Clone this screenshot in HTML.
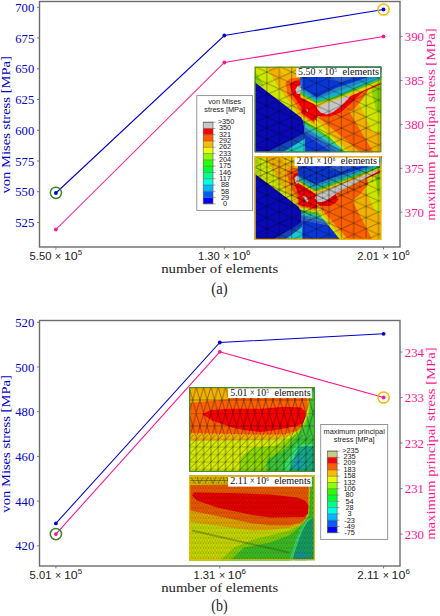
<!DOCTYPE html><html><head><meta charset="utf-8"><style>html,body{margin:0;padding:0;background:#fff;width:440px;height:616px;overflow:hidden}svg{display:block}text{font-family:"Liberation Serif",serif}.s{font-family:"Liberation Sans",sans-serif}</style></head><body>
<svg width="440" height="616" viewBox="0 0 440 616">
<defs>
<pattern id="m1" width="24.8" height="11.2" patternUnits="userSpaceOnUse"><path d="M0 0V11.2M12.4 0V11.2M24.8 0V11.2M0 0L12.4 5.6L24.8 0M0 11.2L12.4 5.6L24.8 11.2M0 0L-12.4 5.6M24.8 11.2L37.2 5.6" fill="none" stroke="#000" stroke-width="0.8" stroke-opacity="0.42"/></pattern>
<pattern id="m2" width="12.4" height="5.6" patternUnits="userSpaceOnUse"><path d="M0 0V5.6M6.2 0V5.6M12.4 0V5.6M0 0L6.2 2.8L12.4 0M0 5.6L6.2 2.8L12.4 5.6M0 0L-6.2 2.8M12.4 5.6L18.6 2.8" fill="none" stroke="#000" stroke-width="0.5" stroke-opacity="0.38"/></pattern>
<pattern id="m3" width="7.3" height="7.5" patternUnits="userSpaceOnUse"><path d="M0 0V7.5M7.3 0V7.5M0 7.5L7.3 0" fill="none" stroke="#000" stroke-width="0.7" stroke-opacity="0.55"/><path d="M0 0H7.3M0 7.5H7.3" fill="none" stroke="#000" stroke-width="0.7" stroke-opacity="0.3"/></pattern>
<pattern id="m3a" width="7.3" height="26" patternUnits="userSpaceOnUse"><path d="M0 0L3.65 13.0L7.3 0M0 26L3.65 13.0L7.3 26" fill="none" stroke="#000" stroke-width="0.7" stroke-opacity="0.55"/><path d="M0 0H7.3M0 13.0H7.3" fill="none" stroke="#000" stroke-width="0.7" stroke-opacity="0.45"/></pattern>
<pattern id="m4" width="2.6" height="5" patternUnits="userSpaceOnUse"><path d="M0 0L1.3 2.5L2.6 0M0 5L1.3 2.5L2.6 5" fill="none" stroke="#000" stroke-width="0.42" stroke-opacity="0.4"/><path d="M0 0H2.6M0 2.5H2.6" fill="none" stroke="#000" stroke-width="0.42" stroke-opacity="0.22"/></pattern>
</defs>
<rect x="39.5" y="1.5" width="360.5" height="245.5" fill="none" stroke="#6c6c6c" stroke-width="1.4"/>
<line x1="37.0" y1="7.3" x2="39.5" y2="7.3" stroke="#6c6c6c" stroke-width="0.9"/>
<text x="34.2" y="11.8" text-anchor="end" font-size="11.6" fill="#0000cd" textLength="18.9" lengthAdjust="spacingAndGlyphs">700</text>
<line x1="37.0" y1="38.0" x2="39.5" y2="38.0" stroke="#6c6c6c" stroke-width="0.9"/>
<text x="34.2" y="42.5" text-anchor="end" font-size="11.6" fill="#0000cd" textLength="18.9" lengthAdjust="spacingAndGlyphs">675</text>
<line x1="37.0" y1="68.8" x2="39.5" y2="68.8" stroke="#6c6c6c" stroke-width="0.9"/>
<text x="34.2" y="73.3" text-anchor="end" font-size="11.6" fill="#0000cd" textLength="18.9" lengthAdjust="spacingAndGlyphs">650</text>
<line x1="37.0" y1="99.5" x2="39.5" y2="99.5" stroke="#6c6c6c" stroke-width="0.9"/>
<text x="34.2" y="104.0" text-anchor="end" font-size="11.6" fill="#0000cd" textLength="18.9" lengthAdjust="spacingAndGlyphs">625</text>
<line x1="37.0" y1="130.3" x2="39.5" y2="130.3" stroke="#6c6c6c" stroke-width="0.9"/>
<text x="34.2" y="134.8" text-anchor="end" font-size="11.6" fill="#0000cd" textLength="18.9" lengthAdjust="spacingAndGlyphs">600</text>
<line x1="37.0" y1="161.0" x2="39.5" y2="161.0" stroke="#6c6c6c" stroke-width="0.9"/>
<text x="34.2" y="165.5" text-anchor="end" font-size="11.6" fill="#0000cd" textLength="18.9" lengthAdjust="spacingAndGlyphs">575</text>
<line x1="37.0" y1="191.7" x2="39.5" y2="191.7" stroke="#6c6c6c" stroke-width="0.9"/>
<text x="34.2" y="196.2" text-anchor="end" font-size="11.6" fill="#0000cd" textLength="18.9" lengthAdjust="spacingAndGlyphs">550</text>
<line x1="37.0" y1="222.5" x2="39.5" y2="222.5" stroke="#6c6c6c" stroke-width="0.9"/>
<text x="34.2" y="227.0" text-anchor="end" font-size="11.6" fill="#0000cd" textLength="18.9" lengthAdjust="spacingAndGlyphs">525</text>
<line x1="400" y1="36.4" x2="402.5" y2="36.4" stroke="#6c6c6c" stroke-width="0.9"/>
<text x="404.8" y="40.9" font-size="11.6" fill="#ff1493" textLength="19.2" lengthAdjust="spacingAndGlyphs">390</text>
<line x1="400" y1="80.4" x2="402.5" y2="80.4" stroke="#6c6c6c" stroke-width="0.9"/>
<text x="404.8" y="84.9" font-size="11.6" fill="#ff1493" textLength="19.2" lengthAdjust="spacingAndGlyphs">385</text>
<line x1="400" y1="124.4" x2="402.5" y2="124.4" stroke="#6c6c6c" stroke-width="0.9"/>
<text x="404.8" y="128.9" font-size="11.6" fill="#ff1493" textLength="19.2" lengthAdjust="spacingAndGlyphs">380</text>
<line x1="400" y1="168.3" x2="402.5" y2="168.3" stroke="#6c6c6c" stroke-width="0.9"/>
<text x="404.8" y="172.8" font-size="11.6" fill="#ff1493" textLength="19.2" lengthAdjust="spacingAndGlyphs">375</text>
<line x1="400" y1="212.2" x2="402.5" y2="212.2" stroke="#6c6c6c" stroke-width="0.9"/>
<text x="404.8" y="216.7" font-size="11.6" fill="#ff1493" textLength="19.2" lengthAdjust="spacingAndGlyphs">370</text>
<line x1="55.9" y1="247" x2="55.9" y2="249.5" stroke="#6c6c6c" stroke-width="0.9"/>
<line x1="224.3" y1="247" x2="224.3" y2="249.5" stroke="#6c6c6c" stroke-width="0.9"/>
<line x1="383.5" y1="247" x2="383.5" y2="249.5" stroke="#6c6c6c" stroke-width="0.9"/>
<text class="s" x="29.6" y="259.7" font-size="10.4" fill="#222" textLength="21.8" lengthAdjust="spacingAndGlyphs">5.50</text>
<text class="s" x="55.1" y="259.7" font-size="10.4" fill="#222" textLength="6.2" lengthAdjust="spacingAndGlyphs">×</text>
<text class="s" x="63.9" y="259.7" font-size="10.4" fill="#222" textLength="13.8" lengthAdjust="spacingAndGlyphs">10</text>
<text class="s" x="77.7" y="254.7" font-size="7.8" fill="#222" textLength="4.4" lengthAdjust="spacingAndGlyphs">5</text>
<text class="s" x="198.0" y="259.7" font-size="10.4" fill="#222" textLength="21.8" lengthAdjust="spacingAndGlyphs">1.30</text>
<text class="s" x="223.5" y="259.7" font-size="10.4" fill="#222" textLength="6.2" lengthAdjust="spacingAndGlyphs">×</text>
<text class="s" x="232.3" y="259.7" font-size="10.4" fill="#222" textLength="13.8" lengthAdjust="spacingAndGlyphs">10</text>
<text class="s" x="246.1" y="254.7" font-size="7.8" fill="#222" textLength="4.4" lengthAdjust="spacingAndGlyphs">6</text>
<text class="s" x="357.2" y="259.7" font-size="10.4" fill="#222" textLength="21.8" lengthAdjust="spacingAndGlyphs">2.01</text>
<text class="s" x="382.7" y="259.7" font-size="10.4" fill="#222" textLength="6.2" lengthAdjust="spacingAndGlyphs">×</text>
<text class="s" x="391.5" y="259.7" font-size="10.4" fill="#222" textLength="13.8" lengthAdjust="spacingAndGlyphs">10</text>
<text class="s" x="405.3" y="254.7" font-size="7.8" fill="#222" textLength="4.4" lengthAdjust="spacingAndGlyphs">6</text>
<text transform="translate(10.1 124.8) rotate(-90)" text-anchor="middle" font-size="12.6" fill="#0000cd" textLength="137.5" lengthAdjust="spacingAndGlyphs">von Mises stress [MPa]</text>
<text transform="translate(435.0 124.5) rotate(-90)" text-anchor="middle" font-size="12.6" fill="#ff1493" textLength="192.5" lengthAdjust="spacingAndGlyphs">maximum principal stress [MPa]</text>
<text x="219.7" y="272.6" text-anchor="middle" font-size="12.3" fill="#222" textLength="117" lengthAdjust="spacingAndGlyphs">number of elements</text>
<text x="219.5" y="293.8" text-anchor="middle" font-size="17" fill="#222" textLength="16.3" lengthAdjust="spacingAndGlyphs">(a)</text>
<polyline points="55.9,193 224.3,35.5 383.5,9.5" fill="none" stroke="#0000cd" stroke-width="1.05"/>
<circle cx="55.9" cy="193" r="1.9" fill="#0000cd"/>
<circle cx="224.3" cy="35.5" r="1.9" fill="#0000cd"/>
<circle cx="383.5" cy="9.5" r="1.9" fill="#0000cd"/>
<polyline points="55.9,229.5 224.3,62.5 383.5,36.4" fill="none" stroke="#ff1493" stroke-width="1.05"/>
<circle cx="55.9" cy="229.5" r="1.9" fill="#ff1493"/>
<circle cx="224.3" cy="62.5" r="1.9" fill="#ff1493"/>
<circle cx="383.5" cy="36.4" r="1.9" fill="#ff1493"/>
<circle cx="55.9" cy="192.8" r="5.6" fill="none" stroke="#3f7f2a" stroke-width="1.5"/>
<circle cx="383.5" cy="9.5" r="5.6" fill="none" stroke="#f5bb00" stroke-width="1.5"/>
<rect x="196.8" y="95.6" width="55.79999999999998" height="114.80000000000001" fill="#fff" stroke="#8a8a8a" stroke-width="0.9"/>
<text class="s" x="224.7" y="104.1" text-anchor="middle" font-size="7.35" fill="#1a1a1a">von Mises</text>
<text class="s" x="224.7" y="112.3" text-anchor="middle" font-size="7.35" fill="#1a1a1a">stress [MPa]</text>
<rect x="203.2" y="122.20" width="9.8" height="6.28" fill="#c8c8c8"/>
<rect x="203.2" y="128.48" width="9.8" height="6.28" fill="#ff0000"/>
<rect x="203.2" y="134.76" width="9.8" height="6.28" fill="#ff5d00"/>
<rect x="203.2" y="141.04" width="9.8" height="6.28" fill="#ffb900"/>
<rect x="203.2" y="147.32" width="9.8" height="6.28" fill="#e8ff00"/>
<rect x="203.2" y="153.60" width="9.8" height="6.28" fill="#8bff00"/>
<rect x="203.2" y="159.88" width="9.8" height="6.28" fill="#2eff00"/>
<rect x="203.2" y="166.16" width="9.8" height="6.28" fill="#00ff2e"/>
<rect x="203.2" y="172.44" width="9.8" height="6.28" fill="#00ff8b"/>
<rect x="203.2" y="178.72" width="9.8" height="6.28" fill="#00ffe8"/>
<rect x="203.2" y="185.00" width="9.8" height="6.28" fill="#00b9ff"/>
<rect x="203.2" y="191.28" width="9.8" height="6.28" fill="#005dff"/>
<rect x="203.2" y="197.56" width="9.8" height="6.28" fill="#0000ff"/>
<rect x="203.2" y="122.2" width="9.8" height="81.64" fill="none" stroke="#555" stroke-width="0.6"/>
<line x1="203.2" y1="122.20" x2="215.5" y2="122.20" stroke="#555" stroke-width="0.5"/>
<text class="s" x="226.0" y="124.05" text-anchor="middle" font-size="7.35" fill="#1a1a1a">&gt;350</text>
<line x1="203.2" y1="128.48" x2="215.5" y2="128.48" stroke="#555" stroke-width="0.5"/>
<text class="s" x="225.1" y="130.38" text-anchor="middle" font-size="7.35" fill="#1a1a1a">350</text>
<line x1="203.2" y1="134.76" x2="215.5" y2="134.76" stroke="#555" stroke-width="0.5"/>
<text class="s" x="225.1" y="136.70" text-anchor="middle" font-size="7.35" fill="#1a1a1a">321</text>
<line x1="203.2" y1="141.04" x2="215.5" y2="141.04" stroke="#555" stroke-width="0.5"/>
<text class="s" x="225.1" y="143.03" text-anchor="middle" font-size="7.35" fill="#1a1a1a">292</text>
<line x1="203.2" y1="147.32" x2="215.5" y2="147.32" stroke="#555" stroke-width="0.5"/>
<text class="s" x="225.1" y="149.36" text-anchor="middle" font-size="7.35" fill="#1a1a1a">262</text>
<line x1="203.2" y1="153.60" x2="215.5" y2="153.60" stroke="#555" stroke-width="0.5"/>
<text class="s" x="225.1" y="155.68" text-anchor="middle" font-size="7.35" fill="#1a1a1a">233</text>
<line x1="203.2" y1="159.88" x2="215.5" y2="159.88" stroke="#555" stroke-width="0.5"/>
<text class="s" x="225.1" y="162.01" text-anchor="middle" font-size="7.35" fill="#1a1a1a">204</text>
<line x1="203.2" y1="166.16" x2="215.5" y2="166.16" stroke="#555" stroke-width="0.5"/>
<text class="s" x="225.1" y="168.34" text-anchor="middle" font-size="7.35" fill="#1a1a1a">175</text>
<line x1="203.2" y1="172.44" x2="215.5" y2="172.44" stroke="#555" stroke-width="0.5"/>
<text class="s" x="225.1" y="174.67" text-anchor="middle" font-size="7.35" fill="#1a1a1a">146</text>
<line x1="203.2" y1="178.72" x2="215.5" y2="178.72" stroke="#555" stroke-width="0.5"/>
<text class="s" x="225.1" y="180.99" text-anchor="middle" font-size="7.35" fill="#1a1a1a">117</text>
<line x1="203.2" y1="185.00" x2="215.5" y2="185.00" stroke="#555" stroke-width="0.5"/>
<text class="s" x="225.1" y="187.32" text-anchor="middle" font-size="7.35" fill="#1a1a1a">88</text>
<line x1="203.2" y1="191.28" x2="215.5" y2="191.28" stroke="#555" stroke-width="0.5"/>
<text class="s" x="225.1" y="193.65" text-anchor="middle" font-size="7.35" fill="#1a1a1a">58</text>
<line x1="203.2" y1="197.56" x2="215.5" y2="197.56" stroke="#555" stroke-width="0.5"/>
<text class="s" x="225.1" y="199.97" text-anchor="middle" font-size="7.35" fill="#1a1a1a">29</text>
<line x1="203.2" y1="203.84" x2="215.5" y2="203.84" stroke="#555" stroke-width="0.5"/>
<text class="s" x="225.1" y="206.30" text-anchor="middle" font-size="7.35" fill="#1a1a1a">0</text>
<svg x="254.5" y="66.5" width="127" height="86" viewBox="0 0 127 86" overflow="hidden">
<rect width="127" height="86" fill="#f2b000"/>
<polygon points="0,0 12,0 20,14 29,28 37,38 45,50 48,56 0,20" fill="#d0e600"/>
<polygon points="0,5 3,8 10,20 0,17" fill="#8ad400"/>
<polygon points="22,0 42,0 42,6 30,8" fill="#eec400"/>
<polygon points="31,16 36,12 44,11 48,14 52,28 60,38 68,48 68,58 58,60 48,48 40,36 33,28" fill="#fa6000"/>
<polygon points="35,18 40,14.5 46,14 48,18 52,28 60,38 66,47 65,56 59,57 51,47 44,37 38,28" fill="#f80000"/>
<polygon points="62.44,56.89 62.00,56.00 62.00,44.00 56.00,36.00 47.00,40.00 47.00,46.85" fill="#f80000"/><polygon points="47.00,46.85 47.00,48.35 63.56,59.11 62.44,56.89" fill="#fa6000"/><polygon points="47.00,48.35 47.00,49.85 66.88,62.77 64.00,60.00 63.56,59.11" fill="#f2b000"/><polygon points="47.00,49.85 47.00,50.00 48.06,53.04 74.86,70.46 66.88,62.77" fill="#d0e600"/><polygon points="48.06,53.04 48.60,54.60 49.02,56.66 84.45,79.69 74.86,70.46" fill="#44c428"/><polygon points="49.02,56.66 49.70,60.00 49.70,60.11 89.54,86.00 91.00,86.00 84.45,79.69" fill="#1cc8cc"/><polygon points="49.70,60.11 49.80,63.17 84.92,86.00 89.54,86.00" fill="#1a8cc0"/><polygon points="49.80,63.17 49.92,67.25 78.77,86.00 84.92,86.00" fill="#1e5ee0"/><polygon points="49.92,67.25 50.50,86.00 78.77,86.00" fill="#0a36d4"/>
<polygon points="0,15.5 46.5,51 48.6,54.6 49.5,60 49.8,86 0,86" fill="#0808b4"/>
<polygon points="48.6,54.6 49.5,60 49.8,86 50.8,86 50.5,60 49.6,54.6" fill="#3a7ae0"/>
<polygon points="12,86 50.5,66 50.5,72 28,86" fill="#1446b8"/>
<polygon points="28,86 50.5,72 50.5,86" fill="#1cc8cc"/>
<polygon points="62,50 70,48 127,48 127,86 95,86 62,55" fill="#f2b000"/>
<polygon points="60,53 64,56 95,86 91,86 64,60 60,57" fill="#d0e600"/>
<polygon points="64,50.7 70,44 93,42 119,86 106,86" fill="#fa6000"/>
<polygon points="98,24 114,15 127,10 127,64 118,66 108,44" fill="#d0e600"/>
<polygon points="116,16 127,11 127,48 122,44 118,30" fill="#8ad400"/>
<polygon points="46,30 62,42 81.5,36 127,16 127,17.5 108,26 98,36 86,46 76,50 66,50 56,46 48,36" fill="#f80000"/>
<polygon points="100,33 108,26 114,23 108,33 100,42 92,47 88,47" fill="#fa6000"/>
<polygon points="46,0 127,0 127,15 81.5,33.5 62,39 46,31" fill="#f0c800"/>
<polygon points="46,0 127,0 127,13.5 81.5,32 62,37 46,28" fill="#44c428"/>
<polygon points="46,0 127,0 127,11.5 81.5,29.5 62,35 46,25" fill="#18b0c8"/>
<polygon points="46,0 127,0 127,9 81.5,25.5 62,33 46,22.5" fill="#2088c0"/>
<polygon points="46,0 127,0 127,6 81.5,21.5 62,31 46,20" fill="#0a36d4"/>
<polygon points="72,12 127,0 127,4 86,16" fill="#2a5ad0"/>
<polygon points="46,0 48,0 48,21 46,20" fill="#3060d8"/>
<polygon points="62.5,42 68,38 80,34 96,28.5 94,32 86,40 78,46 72,48 66,46" fill="#c6c6c6"/>
<polygon points="41,23 43,19.5 46,19 47,24 45,27.6 42,27" fill="#c6c6c6"/>
<polygon points="52,42.5 53,42.5 53.3,45 52.3,45" fill="#e8e8f0"/>
<rect x="0" y="0" width="127" height="86" fill="url(#m1)"/>
<rect x="41.8" y="1.2" width="84.2" height="9.3" fill="#fff"/>
<text x="43.50" y="8.70" font-size="9.4" fill="#111" textLength="17.40" lengthAdjust="spacingAndGlyphs">5.50</text>
<text x="63.50" y="8.70" font-size="9.4" fill="#111" textLength="4.70" lengthAdjust="spacingAndGlyphs">×</text>
<text x="69.80" y="8.70" font-size="9.4" fill="#111" textLength="9.90" lengthAdjust="spacingAndGlyphs">10</text>
<text x="79.80" y="5.70" font-size="6.4" fill="#111" textLength="2.60" lengthAdjust="spacingAndGlyphs">5</text>
<text x="88.00" y="8.70" font-size="9.4" fill="#111" textLength="36.50" lengthAdjust="spacingAndGlyphs">elements</text>
<rect x="0.6" y="0.6" width="125.8" height="84.8" fill="none" stroke="#4a8a2a" stroke-width="1.3"/>
</svg>
<svg x="254.5" y="156" width="127" height="84" viewBox="0 0 127 84" overflow="hidden">
<rect width="127" height="84" fill="#f2b000"/>
<polygon points="0,0 10,0 21.5,20 31,34 40,45 46,52 0,22" fill="#d0e600"/>
<polygon points="0,1 3,1 6,10 6,18 0,18" fill="#a8dc00"/>
<polygon points="25,0 42,0 42,8 30,6" fill="#ead000"/>
<polygon points="32,16 37,12 43,12 48,22 56,32 64,40 70,48 66,58 56,56 46,46 40,38 35,28" fill="#fa6000"/>
<polygon points="38,20 42,16 46,20 50,28 56,34 62,40 66,48 62,55 56,52 48,44 43,36 40,28" fill="#f80000"/>
<polygon points="63.00,53.00 64.00,44.00 56.00,34.00 44.00,36.00 44.00,49.20" fill="#f80000"/><polygon points="44.00,49.20 44.00,50.00 44.07,50.21 63.56,54.11 63.00,53.00" fill="#fa6000"/><polygon points="44.07,50.21 44.40,51.28 64.18,55.24 64.00,55.00 63.56,54.11" fill="#f2b000"/><polygon points="44.40,51.28 45.08,53.42 65.97,57.59 64.18,55.24" fill="#d0e600"/><polygon points="45.08,53.42 45.92,56.08 68.20,60.54 65.97,57.59" fill="#44c428"/><polygon points="45.92,56.08 46.76,58.75 70.44,63.49 68.20,60.54" fill="#1cc8cc"/><polygon points="46.76,58.75 47.00,59.50 47.04,61.31 72.67,66.43 70.44,63.49" fill="#1a8cc0"/><polygon points="47.04,61.31 47.09,63.82 74.91,69.38 72.67,66.43" fill="#1e5ee0"/><polygon points="47.09,63.82 47.50,84.00 86.00,84.00 74.91,69.38" fill="#0a36d4"/>
<polygon points="0,17.5 43.6,50.5 46.5,55 47,60 47.2,84 0,84" fill="#0808b4"/>
<polygon points="46.5,55 47,60 47.2,84 48.2,84 48,60 47.5,55" fill="#3a7ae0"/>
<polygon points="18,84 47.5,66 47.5,71 30,84" fill="#1446b8"/>
<polygon points="30,84 47.5,71 47.5,84" fill="#1cc8cc"/>
<polygon points="62,48 80,41 127,41 127,84 88,84 63,53" fill="#f2b000"/>
<polygon points="62,52 64,53 89,84 86,84 62,55" fill="#d0e600"/>
<polygon points="64,48 80,41 96,41 118,84 94,84 66,52" fill="#fa6000"/>
<polygon points="106,20 118,14 127,10 127,60 120,54 112,36" fill="#d0e600"/>
<polygon points="120,14 127,11 127,42 123,38" fill="#8ad400"/>
<polygon points="44,26 58,38 64,40 120,16 127,14 127,16 100,28 90,36 82,46 76,50 66,50 56,44 46,34" fill="#f80000"/>
<polygon points="80,36 100,26 112,21 114,28 104,40 96,46 86,48" fill="#fa6000"/>
<polygon points="43.6,0 127,0 127,12 64,36 60,37 43.6,27" fill="#f0c800"/>
<polygon points="43.6,0 127,0 127,11 64,34.5 60,35 43.6,25" fill="#44c428"/>
<polygon points="43.6,0 127,0 127,9.5 64,32 60,33 43.6,23" fill="#18b0c8"/>
<polygon points="43.6,0 127,0 127,8 64,29.5 60,31 43.6,21" fill="#2088c0"/>
<polygon points="43.6,0 127,0 127,6 64,26.6 60,28 43.6,19" fill="#0a36d4"/>
<polygon points="72,12 127,0 127,4 86,16" fill="#2a5ad0"/>
<polygon points="60.5,42 62,38.5 68,35.5 100,23.5 122,14.5 124,15.2 110,22.5 84,36 74,43 68,46 63,46" fill="#c6c6c6"/>
<polygon points="40,22 42,19.4 44,19.5 44.5,26 42.5,28 40.5,26" fill="#c6c6c6"/>
<polygon points="48,40 50,39.5 54,44 53,46.5 51,45" fill="#c6c6c6"/>
<rect x="0" y="0" width="127" height="84" fill="url(#m1)"/>
<polygon points="0,0 42,0 42,10 127,10 127,22 90,40 70,52 66,62 48,66 44,54 30,42 0,22" fill="url(#m2)"/>
<rect x="40" y="1.2" width="84.8" height="8.9" fill="#fff"/>
<text x="42.10" y="8.30" font-size="9.4" fill="#111" textLength="17.27" lengthAdjust="spacingAndGlyphs">2.01</text>
<text x="61.95" y="8.30" font-size="9.4" fill="#111" textLength="4.67" lengthAdjust="spacingAndGlyphs">×</text>
<text x="68.21" y="8.30" font-size="9.4" fill="#111" textLength="9.83" lengthAdjust="spacingAndGlyphs">10</text>
<text x="78.13" y="5.30" font-size="6.4" fill="#111" textLength="2.58" lengthAdjust="spacingAndGlyphs">6</text>
<text x="86.27" y="8.30" font-size="9.4" fill="#111" textLength="36.23" lengthAdjust="spacingAndGlyphs">elements</text>
<rect x="0.6" y="0.6" width="125.8" height="82.8" fill="none" stroke="#f5b400" stroke-width="1.3"/>
</svg>
<rect x="39.5" y="320.5" width="360.5" height="245.5" fill="none" stroke="#6c6c6c" stroke-width="1.4"/>
<line x1="37.0" y1="322.3" x2="39.5" y2="322.3" stroke="#6c6c6c" stroke-width="0.9"/>
<text x="34.2" y="326.8" text-anchor="end" font-size="11.6" fill="#0000cd" textLength="18.9" lengthAdjust="spacingAndGlyphs">520</text>
<line x1="37.0" y1="367.0" x2="39.5" y2="367.0" stroke="#6c6c6c" stroke-width="0.9"/>
<text x="34.2" y="371.5" text-anchor="end" font-size="11.6" fill="#0000cd" textLength="18.9" lengthAdjust="spacingAndGlyphs">500</text>
<line x1="37.0" y1="411.7" x2="39.5" y2="411.7" stroke="#6c6c6c" stroke-width="0.9"/>
<text x="34.2" y="416.2" text-anchor="end" font-size="11.6" fill="#0000cd" textLength="18.9" lengthAdjust="spacingAndGlyphs">480</text>
<line x1="37.0" y1="456.4" x2="39.5" y2="456.4" stroke="#6c6c6c" stroke-width="0.9"/>
<text x="34.2" y="460.9" text-anchor="end" font-size="11.6" fill="#0000cd" textLength="18.9" lengthAdjust="spacingAndGlyphs">460</text>
<line x1="37.0" y1="501.1" x2="39.5" y2="501.1" stroke="#6c6c6c" stroke-width="0.9"/>
<text x="34.2" y="505.6" text-anchor="end" font-size="11.6" fill="#0000cd" textLength="18.9" lengthAdjust="spacingAndGlyphs">440</text>
<line x1="37.0" y1="545.8" x2="39.5" y2="545.8" stroke="#6c6c6c" stroke-width="0.9"/>
<text x="34.2" y="550.3" text-anchor="end" font-size="11.6" fill="#0000cd" textLength="18.9" lengthAdjust="spacingAndGlyphs">420</text>
<line x1="400" y1="352.0" x2="402.5" y2="352.0" stroke="#6c6c6c" stroke-width="0.9"/>
<text x="404.8" y="356.5" font-size="11.6" fill="#ff1493" textLength="19.2" lengthAdjust="spacingAndGlyphs">234</text>
<line x1="400" y1="397.6" x2="402.5" y2="397.6" stroke="#6c6c6c" stroke-width="0.9"/>
<text x="404.8" y="402.1" font-size="11.6" fill="#ff1493" textLength="19.2" lengthAdjust="spacingAndGlyphs">233</text>
<line x1="400" y1="443.1" x2="402.5" y2="443.1" stroke="#6c6c6c" stroke-width="0.9"/>
<text x="404.8" y="447.6" font-size="11.6" fill="#ff1493" textLength="19.2" lengthAdjust="spacingAndGlyphs">232</text>
<line x1="400" y1="488.6" x2="402.5" y2="488.6" stroke="#6c6c6c" stroke-width="0.9"/>
<text x="404.8" y="493.1" font-size="11.6" fill="#ff1493" textLength="19.2" lengthAdjust="spacingAndGlyphs">231</text>
<line x1="400" y1="534.1" x2="402.5" y2="534.1" stroke="#6c6c6c" stroke-width="0.9"/>
<text x="404.8" y="538.6" font-size="11.6" fill="#ff1493" textLength="19.2" lengthAdjust="spacingAndGlyphs">230</text>
<line x1="55.9" y1="566" x2="55.9" y2="568.5" stroke="#6c6c6c" stroke-width="0.9"/>
<line x1="219.8" y1="566" x2="219.8" y2="568.5" stroke="#6c6c6c" stroke-width="0.9"/>
<line x1="383.6" y1="566" x2="383.6" y2="568.5" stroke="#6c6c6c" stroke-width="0.9"/>
<text class="s" x="29.6" y="578.7" font-size="10.4" fill="#222" textLength="21.8" lengthAdjust="spacingAndGlyphs">5.01</text>
<text class="s" x="55.1" y="578.7" font-size="10.4" fill="#222" textLength="6.2" lengthAdjust="spacingAndGlyphs">×</text>
<text class="s" x="63.9" y="578.7" font-size="10.4" fill="#222" textLength="13.8" lengthAdjust="spacingAndGlyphs">10</text>
<text class="s" x="77.7" y="573.7" font-size="7.8" fill="#222" textLength="4.4" lengthAdjust="spacingAndGlyphs">5</text>
<text class="s" x="193.5" y="578.7" font-size="10.4" fill="#222" textLength="21.8" lengthAdjust="spacingAndGlyphs">1.31</text>
<text class="s" x="219.0" y="578.7" font-size="10.4" fill="#222" textLength="6.2" lengthAdjust="spacingAndGlyphs">×</text>
<text class="s" x="227.8" y="578.7" font-size="10.4" fill="#222" textLength="13.8" lengthAdjust="spacingAndGlyphs">10</text>
<text class="s" x="241.6" y="573.7" font-size="7.8" fill="#222" textLength="4.4" lengthAdjust="spacingAndGlyphs">6</text>
<text class="s" x="357.3" y="578.7" font-size="10.4" fill="#222" textLength="21.8" lengthAdjust="spacingAndGlyphs">2.11</text>
<text class="s" x="382.8" y="578.7" font-size="10.4" fill="#222" textLength="6.2" lengthAdjust="spacingAndGlyphs">×</text>
<text class="s" x="391.6" y="578.7" font-size="10.4" fill="#222" textLength="13.8" lengthAdjust="spacingAndGlyphs">10</text>
<text class="s" x="405.4" y="573.7" font-size="7.8" fill="#222" textLength="4.4" lengthAdjust="spacingAndGlyphs">6</text>
<text transform="translate(10.1 443.9) rotate(-90)" text-anchor="middle" font-size="12.6" fill="#0000cd" textLength="137.5" lengthAdjust="spacingAndGlyphs">von Mises stress [MPa]</text>
<text transform="translate(435.0 443.6) rotate(-90)" text-anchor="middle" font-size="12.6" fill="#ff1493" textLength="192.5" lengthAdjust="spacingAndGlyphs">maximum principal stress [MPa]</text>
<text x="219.7" y="591.6" text-anchor="middle" font-size="12.3" fill="#222" textLength="117" lengthAdjust="spacingAndGlyphs">number of elements</text>
<text x="219.5" y="611" text-anchor="middle" font-size="17" fill="#222" textLength="16.3" lengthAdjust="spacingAndGlyphs">(b)</text>
<polyline points="55.9,523.4 219.8,342.5 383.6,333.8" fill="none" stroke="#0000cd" stroke-width="1.05"/>
<circle cx="55.9" cy="523.4" r="1.9" fill="#0000cd"/>
<circle cx="219.8" cy="342.5" r="1.9" fill="#0000cd"/>
<circle cx="383.6" cy="333.8" r="1.9" fill="#0000cd"/>
<polyline points="55.9,534.1 219.8,351.8 383.6,397.5" fill="none" stroke="#ff1493" stroke-width="1.05"/>
<circle cx="55.9" cy="534.1" r="1.9" fill="#ff1493"/>
<circle cx="219.8" cy="351.8" r="1.9" fill="#ff1493"/>
<circle cx="383.6" cy="397.5" r="1.9" fill="#ff1493"/>
<circle cx="55.9" cy="534.1" r="5.6" fill="none" stroke="#3f7f2a" stroke-width="1.5"/>
<circle cx="383.6" cy="397.5" r="5.6" fill="none" stroke="#f5bb00" stroke-width="1.5"/>
<svg x="189" y="387" width="126" height="85" viewBox="0 0 126 85" overflow="hidden">
<rect width="126" height="85" fill="#16a884"/>
<polygon points="104,71 110,68 115,73 114,81 104,82" fill="#1aa2a8"/>
<polygon points="0,0 0,86 99,86 103,76 107,66 111,60 118,59.5 126,59 126,0" fill="#34e070"/>
<polygon points="0,0 0,86 93,86 98,74 103,64 108,57.5 118,57 126,57 126,0" fill="#3cc438"/>
<polygon points="0,0 0,86 77,86 78,72 86,68 96,62 104,53 110,46 116,38 120,28 122,10 122,0 122,0" fill="#8cd800"/>
<polygon points="0,0 0,86 50,86 52,70 63,61 85,59 98,53 107,46 114,38 119,28 121,10 121,0 121,0" fill="#d4e800"/>
<polygon points="0,0 0,54 64,53 90,52 104,47 112,40 117,30 119.5,20 120,0 120,0" fill="#f2b000"/>
<polygon points="0,0 0,46 64,47.5 95,47.5 108,44 112.8,40 116,30 118.5,20 118.5,0 118.5,0" fill="#fa6000"/>
<polygon points="0,0 42,0 42,12 20,14 0,16" fill="#f2b000"/>
<polygon points="13,27 22,23 40,21.8 72,21.8 96,19.8 112,20.5 116,24 116.5,30 114,36 108,39 90,42.5 72,45 55,43 43.6,40.7 23,33.5" fill="#f80000"/>
<rect x="0" y="0" width="126" height="48" fill="url(#m3a)"/>
<rect x="0" y="48" width="126" height="37" fill="url(#m3)"/>
<rect x="39.1" y="1.2" width="83.69999999999999" height="9.8" fill="#fff"/>
<text x="41.20" y="8.50" font-size="9.4" fill="#111" textLength="17.29" lengthAdjust="spacingAndGlyphs">5.01</text>
<text x="61.08" y="8.50" font-size="9.4" fill="#111" textLength="4.67" lengthAdjust="spacingAndGlyphs">×</text>
<text x="67.34" y="8.50" font-size="9.4" fill="#111" textLength="9.84" lengthAdjust="spacingAndGlyphs">10</text>
<text x="77.28" y="5.50" font-size="6.4" fill="#111" textLength="2.58" lengthAdjust="spacingAndGlyphs">5</text>
<text x="85.43" y="8.50" font-size="9.4" fill="#111" textLength="36.27" lengthAdjust="spacingAndGlyphs">elements</text>
<rect x="0.6" y="0.6" width="124.8" height="83.8" fill="none" stroke="#4a8a2a" stroke-width="1.3"/>
</svg>
<svg x="189" y="475.5" width="126" height="85" viewBox="0 0 126 85" overflow="hidden">
<rect width="126" height="85" fill="#18a868"/>
<polygon points="106,78 113,75 119,80 118,85 106,85" fill="#1a9c96"/>
<polygon points="0,0 0,86 103,86 106,76 110,64 114,54 118,47 121,44 126,42 126,0" fill="#40e070"/>
<polygon points="0,0 0,86 100,86 103,76 107,64 111,54 115,47.5 119,43.5 126,41.5 126,0" fill="#40c828"/>
<polygon points="0,0 0,86 40,86 55,72 81,67 100,60 110,52 116,46 120,40 122,0 122,0" fill="#90dc00"/>
<polygon points="0,0 0,86 30,86 45,72 64,64 81,60 100,55 110,50 116,44 120,35 121,0 121,0" fill="#d4e800"/>
<polygon points="0,0 0,46.3 63,55 81,54.5 100,52.5 112,48.5 117,43.5 120,30 121,0 121,0" fill="#f2b000"/>
<polygon points="0,0 0,34.7 63,47.8 81,49.8 100,50 112,47 117,43 119,30 120,0 120,0" fill="#fa6000"/>
<polygon points="0,0 41,0 41,9 0,9.5" fill="#e8c800"/>
<path d="M2,2 L6,8 M8,1 L10,8 L14,2 M16,8 L19,1 M21,2 L24,8 L27,1 M29,8 L32,2 M34,1 L36,8 M38,2 L40,8 M0,5 H40" stroke="#404000" stroke-width="0.9" stroke-opacity="0.55" fill="none"/>
<polygon points="3,20 5,17 40,17.5 81,19 108,22 116,25 119.5,30 119,38 115.4,41.5 81,42 63,39.5 28,32 8,25" fill="#f80000"/>
<path d="M3,55 L60,68 L100,77" stroke="#405000" stroke-width="1.8" stroke-opacity="0.35" fill="none"/>
<rect x="0" y="0" width="126" height="85" fill="url(#m4)"/>
<rect x="39.1" y="1.2" width="83.69999999999999" height="9.9" fill="#fff"/>
<text x="41.20" y="8.40" font-size="9.4" fill="#111" textLength="17.29" lengthAdjust="spacingAndGlyphs">2.11</text>
<text x="61.08" y="8.40" font-size="9.4" fill="#111" textLength="4.67" lengthAdjust="spacingAndGlyphs">×</text>
<text x="67.34" y="8.40" font-size="9.4" fill="#111" textLength="9.84" lengthAdjust="spacingAndGlyphs">10</text>
<text x="77.28" y="5.40" font-size="6.4" fill="#111" textLength="2.58" lengthAdjust="spacingAndGlyphs">6</text>
<text x="85.43" y="8.40" font-size="9.4" fill="#111" textLength="36.27" lengthAdjust="spacingAndGlyphs">elements</text>
<rect x="0.6" y="0.6" width="124.8" height="83.8" fill="none" stroke="#f5b400" stroke-width="1.3"/>
</svg>
<rect x="320.7" y="424.5" width="67.0" height="114.89999999999998" fill="#fff" stroke="#8a8a8a" stroke-width="0.9"/>
<text class="s" x="354.2" y="433.9" text-anchor="middle" font-size="7.35" fill="#1a1a1a">maximum principal</text>
<text class="s" x="354.2" y="442.2" text-anchor="middle" font-size="7.35" fill="#1a1a1a">stress [MPa]</text>
<rect x="327.3" y="451.10" width="9.8" height="6.28" fill="#c8cc84"/>
<rect x="327.3" y="457.38" width="9.8" height="6.28" fill="#ff0000"/>
<rect x="327.3" y="463.66" width="9.8" height="6.28" fill="#ff5d00"/>
<rect x="327.3" y="469.94" width="9.8" height="6.28" fill="#ffb900"/>
<rect x="327.3" y="476.22" width="9.8" height="6.28" fill="#e8ff00"/>
<rect x="327.3" y="482.50" width="9.8" height="6.28" fill="#8bff00"/>
<rect x="327.3" y="488.78" width="9.8" height="6.28" fill="#2eff00"/>
<rect x="327.3" y="495.06" width="9.8" height="6.28" fill="#00ff2e"/>
<rect x="327.3" y="501.34" width="9.8" height="6.28" fill="#00ff8b"/>
<rect x="327.3" y="507.62" width="9.8" height="6.28" fill="#00ffe8"/>
<rect x="327.3" y="513.90" width="9.8" height="6.28" fill="#00b9ff"/>
<rect x="327.3" y="520.18" width="9.8" height="6.28" fill="#005dff"/>
<rect x="327.3" y="526.46" width="9.8" height="6.28" fill="#0000ff"/>
<rect x="327.3" y="451.1" width="9.8" height="81.64" fill="none" stroke="#555" stroke-width="0.6"/>
<line x1="327.3" y1="451.10" x2="339.6" y2="451.10" stroke="#555" stroke-width="0.5"/>
<text class="s" x="350.5" y="452.75" text-anchor="middle" font-size="7.35" fill="#1a1a1a">&gt;235</text>
<line x1="327.3" y1="457.38" x2="339.6" y2="457.38" stroke="#555" stroke-width="0.5"/>
<text class="s" x="349.6" y="459.10" text-anchor="middle" font-size="7.35" fill="#1a1a1a">235</text>
<line x1="327.3" y1="463.66" x2="339.6" y2="463.66" stroke="#555" stroke-width="0.5"/>
<text class="s" x="349.6" y="465.45" text-anchor="middle" font-size="7.35" fill="#1a1a1a">209</text>
<line x1="327.3" y1="469.94" x2="339.6" y2="469.94" stroke="#555" stroke-width="0.5"/>
<text class="s" x="349.6" y="471.80" text-anchor="middle" font-size="7.35" fill="#1a1a1a">183</text>
<line x1="327.3" y1="476.22" x2="339.6" y2="476.22" stroke="#555" stroke-width="0.5"/>
<text class="s" x="349.6" y="478.15" text-anchor="middle" font-size="7.35" fill="#1a1a1a">158</text>
<line x1="327.3" y1="482.50" x2="339.6" y2="482.50" stroke="#555" stroke-width="0.5"/>
<text class="s" x="349.6" y="484.50" text-anchor="middle" font-size="7.35" fill="#1a1a1a">132</text>
<line x1="327.3" y1="488.78" x2="339.6" y2="488.78" stroke="#555" stroke-width="0.5"/>
<text class="s" x="349.6" y="490.85" text-anchor="middle" font-size="7.35" fill="#1a1a1a">106</text>
<line x1="327.3" y1="495.06" x2="339.6" y2="495.06" stroke="#555" stroke-width="0.5"/>
<text class="s" x="349.6" y="497.20" text-anchor="middle" font-size="7.35" fill="#1a1a1a">80</text>
<line x1="327.3" y1="501.34" x2="339.6" y2="501.34" stroke="#555" stroke-width="0.5"/>
<text class="s" x="349.6" y="503.55" text-anchor="middle" font-size="7.35" fill="#1a1a1a">54</text>
<line x1="327.3" y1="507.62" x2="339.6" y2="507.62" stroke="#555" stroke-width="0.5"/>
<text class="s" x="349.6" y="509.90" text-anchor="middle" font-size="7.35" fill="#1a1a1a">28</text>
<line x1="327.3" y1="513.90" x2="339.6" y2="513.90" stroke="#555" stroke-width="0.5"/>
<text class="s" x="349.6" y="516.25" text-anchor="middle" font-size="7.35" fill="#1a1a1a">3</text>
<line x1="327.3" y1="520.18" x2="339.6" y2="520.18" stroke="#555" stroke-width="0.5"/>
<text class="s" x="349.6" y="522.60" text-anchor="middle" font-size="7.35" fill="#1a1a1a">-23</text>
<line x1="327.3" y1="526.46" x2="339.6" y2="526.46" stroke="#555" stroke-width="0.5"/>
<text class="s" x="349.6" y="528.95" text-anchor="middle" font-size="7.35" fill="#1a1a1a">-49</text>
<line x1="327.3" y1="532.74" x2="339.6" y2="532.74" stroke="#555" stroke-width="0.5"/>
<text class="s" x="349.6" y="535.30" text-anchor="middle" font-size="7.35" fill="#1a1a1a">-75</text>
</svg></body></html>
